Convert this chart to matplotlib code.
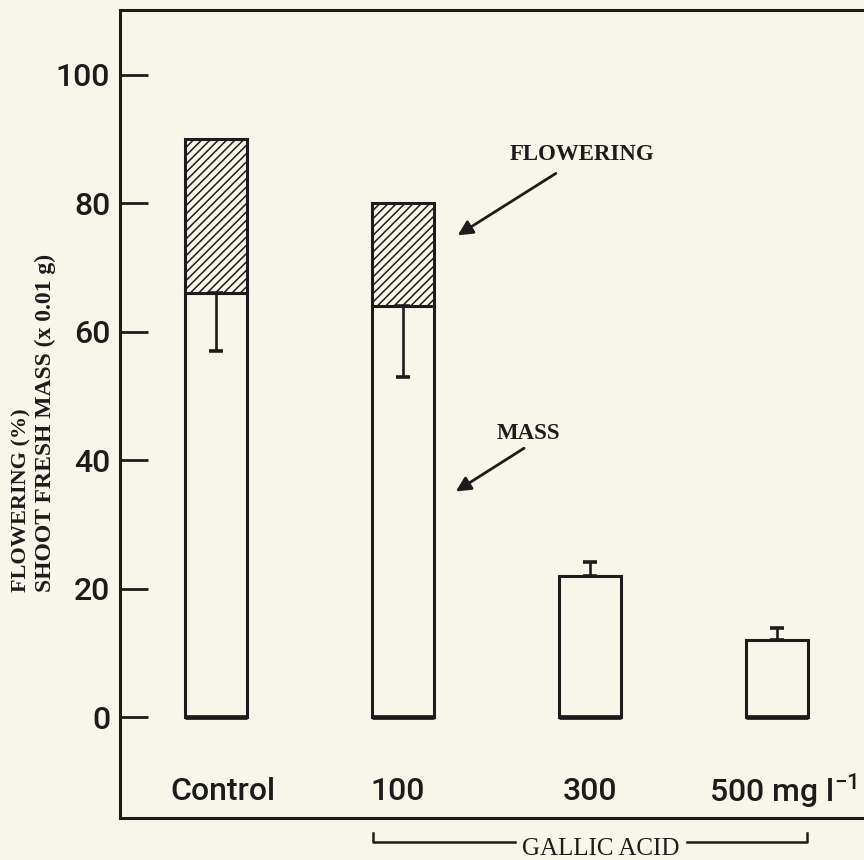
import numpy as np
import matplotlib
matplotlib.use('Agg')
import matplotlib.pyplot as plt

groups = ['Control', '100', '300', '500 mg l$^{-1}$']
mass = [66, 64, 22, 12]
flowering = [90, 80, 0, 0]
err_low = [9, 11, 0, 0]
err_high = [0, 0, 2.2, 1.8]
yticks = [0, 20, 40, 60, 80, 100]

ink = '#1c1c1c'
paper = '#f8f6ea'
sans = dict(family='Roboto', fontweight='medium', fontsize=23)

plt.rcParams['mathtext.fontset'] = 'custom'
plt.rcParams['mathtext.rm'] = 'Roboto:medium'
plt.rcParams['hatch.linewidth'] = 1.1
plt.rcParams['hatch.color'] = ink

fig = plt.figure(figsize=(8.64, 8.6), dpi=100, facecolor=paper)
ax = fig.add_axes([120/864, 42/860, 750/864, 808/860], facecolor=paper)

x = np.arange(len(groups))
w = 0.33

# mass bars (open)
ax.bar(x, mass, width=w, color=paper, edgecolor=ink, linewidth=2.2, zorder=2)
ax.hlines(np.zeros(len(x)), x - w/2, x + w/2, color=ink, lw=3.4, zorder=3)

# flowering part, hatched on top of mass
fl = np.array(flowering, dtype=float)
ms = np.array(mass, dtype=float)
sel = fl > 0
ax.bar(x[sel], fl[sel] - ms[sel], bottom=ms[sel], width=w, color=paper,
       edgecolor=ink, hatch='////', linewidth=2.2, zorder=2)

ax.errorbar(x, mass, yerr=[err_low, err_high], fmt='none', ecolor=ink,
            elinewidth=1.9, capsize=5, capthick=2.6, zorder=4)

ax.set_xlim(-0.513, 3.497)
ax.set_ylim(-15.73, 110.12)
ax.set_yticks(yticks)
ax.set_yticklabels([str(t) for t in yticks], **sans)
ax.set_xticks([])
ax.tick_params(axis='y', direction='in', length=20, width=2.0, pad=7, colors=ink)

for s in ['left', 'top', 'bottom']:
    ax.spines[s].set_linewidth(2.2)
    ax.spines[s].set_color(ink)
ax.spines['right'].set_visible(False)

# category labels inside the frame
xoff = [0.04, -0.03, 0, 0.03]
for i, g in enumerate(groups):
    ax.text(x[i] + xoff[i], -11.6, g, ha='center', va='center', color=ink, **sans)

# annotations
ax.annotate('', xy=(1.28, 74.8), xytext=(1.83, 84.9),
            arrowprops=dict(arrowstyle='-|>', lw=2.0, color=ink, mutation_scale=22))
ax.text(1.96, 87.6, 'FLOWERING', ha='center', va='center',
        family='Liberation Serif', fontweight='bold', fontsize=16.5, color=ink)
ax.annotate('', xy=(1.27, 34.9), xytext=(1.66, 42.1),
            arrowprops=dict(arrowstyle='-|>', lw=2.0, color=ink, mutation_scale=22))
ax.text(1.67, 44.2, 'MASS', ha='center', va='center',
        family='Liberation Serif', fontweight='bold', fontsize=16.5, color=ink)

# gallic acid bracket below the axis
yb, yt = -19.5, -18.1
ax.plot([0.84, 0.84, 1.6], [yt, yb, yb], color=ink, lw=1.8, clip_on=False)
ax.plot([2.52, 3.16, 3.16], [yb, yb, yt], color=ink, lw=1.8, clip_on=False)
ax.text(2.06, -20.5, 'GALLIC ACID', ha='center', va='center',
        family='Liberation Serif', fontsize=18, color=ink, clip_on=False)

# y axis label, two lines
fig.text(21/864, 1 - 592/860, 'FLOWERING (%)', rotation=90, ha='center', va='bottom',
         family='Liberation Serif', fontweight='bold', fontsize=16, color=ink)
fig.text(45/864, 1 - 592/860, 'SHOOT FRESH MASS (x 0.01 g)', rotation=90, ha='center',
         va='bottom', family='Liberation Serif', fontweight='bold', fontsize=17, color=ink)

fig.savefig('out.png', dpi=100, facecolor=paper)
